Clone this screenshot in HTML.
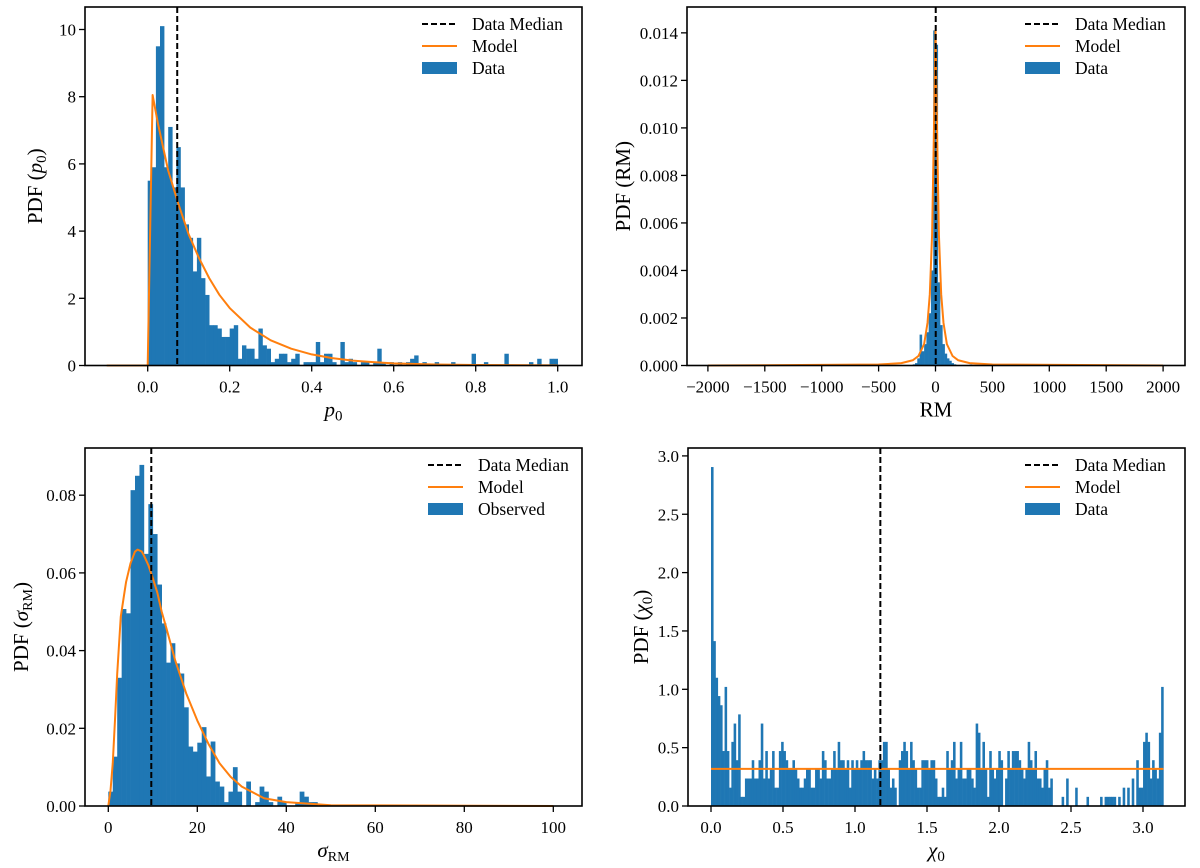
<!DOCTYPE html>
<html><head><meta charset="utf-8">
<style>
html,body{margin:0;padding:0;background:#fff;}
svg{display:block;font-family:"Liberation Serif",serif;}
</style></head>
<body>
<svg id="fig" width="1200" height="868" viewBox="0 0 1200 868" xmlns="http://www.w3.org/2000/svg"></svg>
<script>
// ---------- Panel 1: p0 ----------
const p0BinStart = 0.0;
const p0BinWidth = 0.01;
const p0Values = [5.5,5.9,9.5,10.1,5.9,7.1,5.3,6.5,5.3,4.2,3.8,2.8,3.8,2.6,2.1,1.2,1.2,1.1,0.85,0.85,1.1,1.2,0.2,0.6,0.5,0.5,0.2,1.1,0.6,0.5,0.1,0.2,0.35,0.35,0.1,0.2,0.35,0,0.1,0.1,0.1,0.7,0.1,0.35,0.35,0.1,0,0.7,0.1,0.2,0.1,0,0.1,0.1,0,0.1,0.5,0.1,0,0.1,0,0.1,0,0.1,0.2,0.3,0,0.1,0,0,0.1,0,0,0,0.1,0,0,0,0,0.35,0,0,0.1,0,0,0,0,0.35,0,0,0,0,0,0.1,0,0.2,0,0,0.2,0.2];
const p0ModelX = [-0.1,0,0.012,0.025,0.05,0.075,0.1,0.125,0.15,0.175,0.2,0.25,0.3,0.35,0.4,0.45,0.5,0.55,0.6,0.7,0.8,1.0];
const p0ModelY = [0,0,8.05,7.2,5.8,4.8,3.9,3.2,2.6,2.1,1.71,1.13,0.75,0.5,0.33,0.22,0.146,0.1,0.064,0.03,0.014,0.003];
const p0Median = 0.072;
const p0XTicks = [0.0,0.2,0.4,0.6,0.8,1.0];
const p0XTickLabels = ["0.0","0.2","0.4","0.6","0.8","1.0"];
const p0YTicks = [0,2,4,6,8,10];
const p0YTickLabels = ["0","2","4","6","8","10"];

// ---------- Panel 2: RM ----------
const rmBinLeft = [-1620,-1000,-200,-180,-160,-140,-120,-100,-80,-60,-40,-20,0,20,40,60,80,100,120,140,160,300,500,1000,1100];
const rmBinWidth = 20;
const rmValues = [0.00003,0.00003,0.00005,0.0001,0.0003,0.0013,0.0006,0.0009,0.0014,0.0022,0.0040,0.0141,0.0135,0.0035,0.0017,0.0009,0.0005,0.0003,0.0002,0.0001,0.00005,0.00004,0.00004,0.00003,0.00003];
const rmModelX = [-2000,-500,-300,-200,-150,-100,-70,-50,-30,-15,0,15,30,50,70,100,150,200,300,500,2000];
const rmModelY = [0,0.00004,0.0001,0.00022,0.0004,0.0009,0.0018,0.003,0.0055,0.0095,0.0141,0.0095,0.0055,0.003,0.0018,0.0009,0.0004,0.00022,0.0001,0.00004,0];
const rmMedian = 2;
const rmXTicks = [-2000,-1500,-1000,-500,0,500,1000,1500,2000];
const rmXTickLabels = ["\u22122000","\u22121500","\u22121000","\u2212500","0","500","1000","1500","2000"];
const rmYTicks = [0,0.002,0.004,0.006,0.008,0.010,0.012,0.014];
const rmYTickLabels = ["0.000","0.002","0.004","0.006","0.008","0.010","0.012","0.014"];

// ---------- Panel 3: sigma_RM ----------
const sgBinStart = 0;
const sgBinWidth = 1.0;
const sgValues = [0.0037,0.0127,0.033,0.0507,0.0496,0.0813,0.085,0.0878,0.0649,0.0777,0.070,0.057,0.047,0.0369,0.0419,0.0367,0.0341,0.0254,0.0153,0.014,0.0163,0.0203,0.0076,0.0166,0.0063,0.005,0.001,0.0037,0.01,0.0037,0,0.0063,0,0.001,0.005,0.0037,0.001,0,0.0024,0.001,0,0,0.001,0.0037,0.0024,0.001,0.001];
const sgModelX = [0,0.5,1,1.5,2,2.8,3.5,4,5,6,6.6,7.5,8,9,10,11,12,13,15,17.5,20,22.5,25,27.5,30,35,40,50,100];
const sgModelY = [0,0.004,0.011,0.022,0.034,0.0487,0.054,0.0577,0.0625,0.0655,0.066,0.0655,0.0645,0.062,0.0586,0.055,0.05,0.046,0.0376,0.029,0.022,0.016,0.011,0.0075,0.005,0.002,0.001,0.0002,0];
const sgMedian = 9.66;
const sgXTicks = [0,20,40,60,80,100];
const sgXTickLabels = ["0","20","40","60","80","100"];
const sgYTicks = [0,0.02,0.04,0.06,0.08];
const sgYTickLabels = ["0.00","0.02","0.04","0.06","0.08"];

// ---------- Panel 4: chi_0 ----------
const chiBinStart = 0;
const chiBinWidth = 3.14159/200;
const chiDensityPerCount = 0.0785;
const chiCounts = [37,18,14,12,11,6,13,6,2,7,
9,5,10,1,1,3,3,3,5,3,
3,5,9,3,6,3,4,6,2,2,
6,7,6,5,4,4,5,4,3,2,
2,3,4,4,2,2,4,4,3,6,
5,3,3,4,6,4,7,5,5,4,
5,2,5,4,5,4,5,6,5,5,
5,3,4,3,5,5,7,7,4,2,
3,2,0,5,6,7,6,4,7,5,
4,2,2,5,5,5,4,5,5,3,
1,1,2,1,6,4,5,7,3,4,
7,3,3,4,4,3,2,9,8,4,
7,4,1,6,4,3,4,6,5,0,
3,6,4,6,6,6,5,4,3,4,
7,5,4,6,3,3,2,4,5,2,
3,0,0,0,0,1,0,3,0,0,
0,2,0,0,0,0,1,0,0,0,
0,0,1,0,1,1,1,1,1,0,
1,0,2,0,2,0,3,0,5,2,
2,7,8,7,3,5,4,3,8,13];
const chiModelX = [0,3.14159];
const chiModelY = [0.318,0.318];
const chiMedian = 1.176;
const chiXTicks = [0,0.5,1.0,1.5,2.0,2.5,3.0];
const chiXTickLabels = ["0.0","0.5","1.0","1.5","2.0","2.5","3.0"];
const chiYTicks = [0,0.5,1.0,1.5,2.0,2.5,3.0];
const chiYTickLabels = ["0.0","0.5","1.0","1.5","2.0","2.5","3.0"];

const NS = "http://www.w3.org/2000/svg";
const svg = document.getElementById('fig');
function mk(tag, attrs, parent){
  const e = document.createElementNS(NS, tag);
  for (const k in attrs) e.setAttribute(k, attrs[k]);
  (parent||svg).appendChild(e);
  return e;
}
const BLUE = "#1f77b4", ORANGE = "#ff7f0e";

function panel(cfg){
  const g = mk('g', {});
  
  
  const L=cfg.box[0], T=cfg.box[1], R=cfg.box[2], B=cfg.box[3];
  const sx = v => cfg.x0px + (v - cfg.x0) * cfg.xs;
  const sy = v => B - v * cfg.ys;
  const bars = mk('g', {}, g);
  
  
  cfg.lefts.forEach((lv, i) => {
    const v = cfg.values[i];
    if (!(v > 0)) return;
    const x1 = sx(lv), x2 = sx(lv + cfg.bw);
    const r = mk('rect', {x:x1, y:sy(v), width:Math.max(x2-x1,0.6)+0.3, height:B - sy(v), fill:BLUE}, bars);
    
    
  });
  let d = '';
  cfg.mx.forEach((x, i) => { d += (i?'L':'M') + sx(x).toFixed(2) + ' ' + sy(cfg.my[i]).toFixed(2) + ' '; });
  const ml = mk('path', {d:d, fill:'none', stroke:ORANGE, 'stroke-width':2, 'stroke-linejoin':'round'}, g);
  
  
  const md = mk('line', {x1:sx(cfg.median), x2:sx(cfg.median), y1:T, y2:B, stroke:'#000', 'stroke-width':2, 'stroke-dasharray':'6,3'}, g);
  
  
  const fr = mk('rect', {x:L, y:T, width:R-L, height:B-T, fill:'none', stroke:'#000', 'stroke-width':1.6}, g);
  
  
  cfg.xt.forEach((t, i) => {
    const x = sx(t);
    const tk = mk('line', {x1:x, x2:x, y1:B, y2:B+6, stroke:'#000', 'stroke-width':1.3}, g);
    
    
    const tl = mk('text', {x:x, y:B+27, 'font-size':17, 'text-anchor':'middle', fill:'#000'}, g);
    
    
    tl.textContent = cfg.xtl[i];
  });
  cfg.yt.forEach((t, i) => {
    const y = sy(t);
    const tk = mk('line', {x1:L-6, x2:L, y1:y, y2:y, stroke:'#000', 'stroke-width':1.3}, g);
    
    
    const tl = mk('text', {x:L-9, y:y+6, 'font-size':17, 'text-anchor':'end', fill:'#000'}, g);
    
    
    tl.textContent = cfg.ytl[i];
  });
  const xl = mk('text', {x:(L+R)/2, y:B+51, 'font-size':21, 'text-anchor':'middle'}, g);
  
  
  xl.innerHTML = cfg.xlabel;
  const yl = mk('text', {x:0, y:0, 'font-size':21, 'text-anchor':'middle', transform:'translate('+cfg.ylx+','+((T+B)/2)+') rotate(-90)'}, g);
  
  
  yl.innerHTML = cfg.ylabel;
  const lg = mk('g', {}, g);
  
  
  const lx = cfg.legX, ly = T + 23;
  const names = ['Data Median','Model',cfg.dataName];
  names.forEach((n, i) => {
    const y = ly + i*22;
    if (i===0) mk('line', {x1:lx-50, x2:lx-15, y1:y-6, y2:y-6, stroke:'#000','stroke-width':2,'stroke-dasharray':'6,3'}, lg);
    if (i===1) mk('line', {x1:lx-50, x2:lx-15, y1:y-6, y2:y-6, stroke:ORANGE,'stroke-width':2}, lg);
    if (i===2) mk('rect', {x:lx-50, y:y-12, width:35, height:12, fill:BLUE}, lg);
    const t = mk('text', {x:lx, y:y, 'font-size':17.5}, lg);
    
    
    t.textContent = n;
  });
}
const seq = (start, w, n) => { const a=[]; for(let i=0;i<n;i++) a.push(start+i*w); return a; };

panel({name:'p0-panel', box:[85,7,582,365.5], x0:0, x0px:147.7, xs:410, ys:33.6,
  lefts:seq(p0BinStart,p0BinWidth,p0Values.length), values:p0Values, bw:p0BinWidth,
  mx:p0ModelX, my:p0ModelY, median:p0Median, xt:p0XTicks, xtl:p0XTickLabels, yt:p0YTicks, ytl:p0YTickLabels,
  xlabel:'<tspan font-style="italic">p</tspan><tspan font-size="15" dy="4">0</tspan>',
  ylabel:'PDF (<tspan font-style="italic">p</tspan><tspan font-size="15" dy="4">0</tspan><tspan dy="-4">)</tspan>',
  ylx:42, legX:472, dataName:'Data'});
panel({name:'rm-panel', box:[687,7,1185,365.5], x0:0, x0px:935.5, xs:0.1138, ys:23.76*1000,
  lefts:rmBinLeft, values:rmValues, bw:rmBinWidth,
  mx:rmModelX, my:rmModelY, median:rmMedian, xt:rmXTicks, xtl:rmXTickLabels, yt:rmYTicks, ytl:rmYTickLabels,
  xlabel:'RM', ylabel:'PDF (RM)', ylx:630, legX:1075, dataName:'Data'});
panel({name:'sigma-rm-panel', box:[85,448,582,806], x0:0, x0px:108.3, xs:4.45, ys:77.7/0.02,
  lefts:seq(sgBinStart,sgBinWidth,sgValues.length), values:sgValues, bw:sgBinWidth,
  mx:sgModelX, my:sgModelY, median:sgMedian, xt:sgXTicks, xtl:sgXTickLabels, yt:sgYTicks, ytl:sgYTickLabels,
  xlabel:'<tspan font-style="italic">σ</tspan><tspan font-size="14" dy="4">RM</tspan>',
  ylabel:'PDF (<tspan font-style="italic">σ</tspan><tspan font-size="14" dy="4">RM</tspan><tspan dy="-4">)</tspan>',
  ylx:28, legX:478, dataName:'Observed'});
panel({name:'chi0-panel', box:[688,448,1185,806], x0:0, x0px:711, xs:144, ys:116.7,
  lefts:seq(chiBinStart,chiBinWidth,chiCounts.length), values:chiCounts.map(c=>c*chiDensityPerCount), bw:chiBinWidth,
  mx:chiModelX, my:chiModelY, median:chiMedian, xt:chiXTicks, xtl:chiXTickLabels, yt:chiYTicks, ytl:chiYTickLabels,
  xlabel:'<tspan font-style="italic">χ</tspan><tspan font-size="15" dy="4">0</tspan>',
  ylabel:'PDF (<tspan font-style="italic">χ</tspan><tspan font-size="15" dy="4">0</tspan><tspan dy="-4">)</tspan>',
  ylx:648, legX:1075, dataName:'Data'});
</script>
</body></html>
